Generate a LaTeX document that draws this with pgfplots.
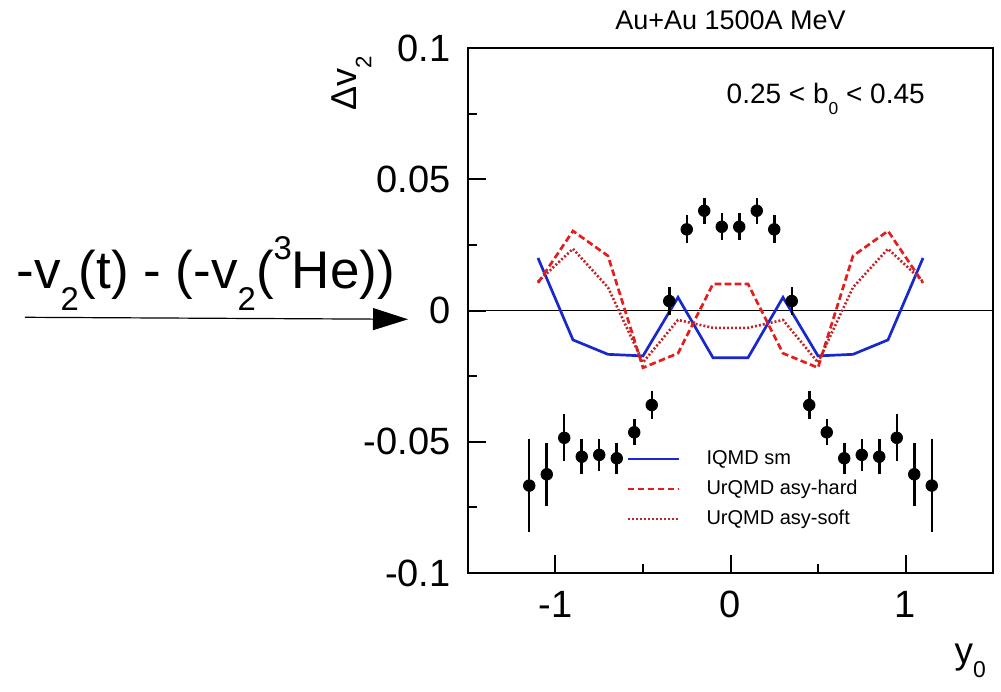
\documentclass[border=0pt]{standalone}
\usepackage{fontspec}
\setmainfont{Liberation Sans}
\usepackage{graphicx}
\usepackage{pgfplots}
\pgfplotsset{compat=1.18}
\usepackage{pgfplotstable}
\usetikzlibrary{arrows.meta}
\definecolor{iqmd}{RGB}{25,40,205}
\definecolor{hard}{RGB}{228,30,30}
\definecolor{soft}{RGB}{195,35,35}
\newcommand\sub[1]{\raisebox{-0.4em}{\scalebox{0.62}{#1}}}
\newcommand\sups[1]{\raisebox{0.55em}{\scalebox{0.62}{#1}}}

\pgfplotstableread{
x y e
-1.15 -0.0667 0.0176
-1.05 -0.0624 0.0120
-0.95 -0.0485 0.0089
-0.85 -0.0557 0.0067
-0.75 -0.0550 0.0060
-0.65 -0.0563 0.0060
-0.55 -0.0464 0.0050
-0.45 -0.0360 0.0053
-0.35 0.0036 0.0052
-0.25 0.0309 0.0053
-0.15 0.0380 0.0050
-0.05 0.0319 0.0052
0.05 0.0319 0.0052
0.15 0.0380 0.0050
0.25 0.0309 0.0053
0.35 0.0036 0.0052
0.45 -0.0360 0.0053
0.55 -0.0464 0.0050
0.65 -0.0563 0.0060
0.75 -0.0550 0.0060
0.85 -0.0557 0.0067
0.95 -0.0485 0.0089
1.05 -0.0624 0.0120
1.15 -0.0667 0.0176
}\datatab

\pgfplotstableread{
x iqmd hard soft
-1.1 0.0200 0.0105 0.0110
-0.9 -0.0112 0.0303 0.0235
-0.7 -0.0167 0.0208 0.0088
-0.5 -0.0173 -0.0218 -0.0198
-0.3 0.0050 -0.0163 -0.0036
-0.1 -0.0180 0.0101 -0.0066
0.1 -0.0180 0.0101 -0.0066
0.3 0.0050 -0.0163 -0.0036
0.5 -0.0173 -0.0218 -0.0198
0.7 -0.0167 0.0208 0.0088
0.9 -0.0112 0.0303 0.0235
1.1 0.0200 0.0105 0.0110
}\modeltab

\begin{document}
\begin{tikzpicture}
\begin{axis}[
  at={(0,0)}, anchor=south west,
  width=262.5bp, height=262.5bp, scale only axis,
  xmin=-1.5, xmax=1.5, ymin=-0.1, ymax=0.1,
  axis line style={line width=1bp},
  every tick/.style={line width=1bp, black},
  tick align=inside, tick pos=left,
  major tick length=9bp, minor tick length=4.5bp,
  xtick={-1,0,1}, xticklabels={-1,0,1}, minor xtick={-0.5,0.5},
  ytick={-0.1,-0.05,0,0.05,0.1}, yticklabels={-0.1,-0.05,0,0.05,0.1},
  minor ytick={-0.075,-0.025,0.025,0.075},
  ticklabel style={font=\fontsize{19bp}{22bp}\selectfont},
  yticklabel style={anchor=east, inner sep=0pt, xshift=-8.5bp},
  xticklabel style={anchor=north, inner sep=0pt, yshift=-9bp},
  clip=false,
  legend cell align=left,
  legend image code/.code={\draw[#1] (0bp,0bp) -- (25.8bp,0bp);},
  legend style={draw=none, fill=none, inner sep=0pt, outer sep=0pt,
    at={(axis cs:-0.596,-0.068)}, anchor=west,
    font=\fontsize{10bp}{12bp}\selectfont,
    row sep=5.5bp, column sep=13bp,
    nodes={inner sep=0pt, text height=7.5bp, text depth=2bp}},
]
\addplot[black, line width=0.5bp, forget plot] coordinates {(-1.5,0) (1.5,0)};
\addplot[iqmd, line width=1.35bp] table[x=x, y=iqmd] {\modeltab};
\addlegendentry{IQMD sm}
\addplot[hard, line width=1.35bp, dash pattern=on 3.3bp off 1.7bp] table[x=x, y=hard] {\modeltab};
\addlegendentry{UrQMD asy-hard}
\addplot[soft, line width=1.3bp, dash pattern=on 1bp off 1bp] table[x=x, y=soft] {\modeltab};
\addlegendentry{UrQMD asy-soft}
\addplot[black, only marks, mark=*, mark size=2.9bp, forget plot,
  error bars/.cd, y dir=both, y explicit, error mark=none,
  error bar style={line width=1.25bp, black}]
  table[x=x, y=y, y error=e] {\datatab};
\node[anchor=base, font=\fontsize{13.5bp}{16bp}\selectfont] at (rel axis cs:0.5,1) [yshift=9bp] {Au+Au 1500A MeV};
\node[anchor=base west, font=\fontsize{14bp}{17bp}\selectfont] at (axis cs:-0.062,0.079) {0.25 < b\sub{0} < 0.45};
\end{axis}
\node[anchor=base east, font=\fontsize{18.5bp}{22bp}\selectfont] at (262.5bp,-45bp) {y\sub{0}};
\node[anchor=base east, rotate=90, font=\fontsize{18bp}{21bp}\selectfont] at (-55.5bp,262bp) {Δv\sub{2}};
\node[anchor=base west, inner sep=0pt, font=\fontsize{26.5bp}{30bp}\selectfont] at (-226bp,142bp) {-v\sub{2}(t) - (-v\sub{2}(\sups{3}He))};
\draw[line width=0.6bp, -{Triangle[length=17.5bp, width=11bp]}] (-221.5bp,127.85bp) -- (-30bp,126.85bp);
\pgfresetboundingbox
\path[use as bounding box] (-234bp,-59.5bp) rectangle (266.5bp,286.5bp);
\end{tikzpicture}
\end{document}
